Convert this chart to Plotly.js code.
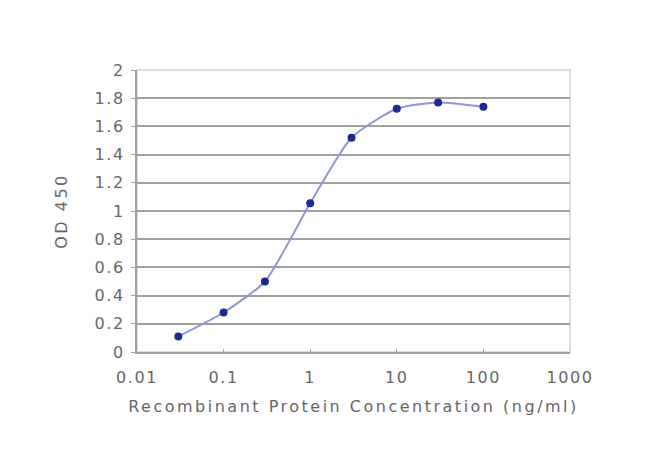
<!DOCTYPE html>
<html><head><meta charset="utf-8">
<script src="https://cdn.plot.ly/plotly-3.0.1.min.js"></script>
<style>html,body{margin:0;padding:0;background:#fff}#chart{width:650px;height:466px}
#chart text{letter-spacing:1.6px}
#chart text.xtitle, #chart text.ytitle{letter-spacing:2.5px}</style>
</head><body><div id="chart"></div>
<script>
const concentration = [0.03, 0.1, 0.3, 1, 3, 10, 30, 100];
const od450 = [0.11, 0.28, 0.50, 1.055, 1.52, 1.725, 1.77, 1.74];
const xTickVals = [0.01, 0.1, 1, 10, 100, 1000];
const xTickText = ["0.01", "0.1", "1", "10", "100", "1000"];
const yTickVals = [0, 0.2, 0.4, 0.6, 0.8, 1, 1.2, 1.4, 1.6, 1.8, 2];
const yTickText = ["0", "0.2", "0.4", "0.6", "0.8", "1", "1.2", "1.4", "1.6", "1.8", "2"];

const trace = {
  x: concentration, y: od450, type: 'scatter', mode: 'lines+markers',
  line: {color: '#8c95d8', width: 2, shape: 'spline', smoothing: 0.6},
  marker: {color: '#1e2a90', size: 8, symbol: 'circle'},
  hoverinfo: 'skip'
};
const font = {family: 'DejaVu Sans, sans-serif', size: 16, color: '#666'};
const layout = {
  width: 650, height: 466,
  margin: {l: 137, r: 80, t: 70, b: 114},
  paper_bgcolor: '#fff', plot_bgcolor: '#fff',
  font: font, showlegend: false,
  xaxis: {
    type: 'log', range: [-2, 3],
    tickvals: xTickVals, ticktext: xTickText,
    showgrid: false, zeroline: false,
    showline: true, linecolor: '#a0a0a0', linewidth: 2, mirror: false,
    ticks: 'inside', ticklen: 3, tickcolor: '#a0a0a0',
    tickfont: font, ticklabelstandoff: 10,
    title: {text: 'Recombinant Protein Concentration (ng/ml)', font: font, standoff: 15}
  },
  yaxis: {
    range: [0, 2], tickvals: yTickVals, ticktext: yTickText,
    showgrid: true, gridcolor: '#a0a0a0', gridwidth: 2, zeroline: false,
    showline: true, linecolor: '#a0a0a0', linewidth: 2,
    ticks: 'outside', ticklen: 4, tickcolor: '#a0a0a0',
    tickfont: font, ticklabelstandoff: 3,
    title: {text: 'OD 450', font: font, standoff: 28}
  },
  shapes: [{type: 'rect', xref: 'paper', yref: 'paper', x0: 0, x1: 1, y0: 0, y1: 1,
            line: {color: '#dcdcdc', width: 2}, layer: 'below'}]
};
Plotly.newPlot('chart', [trace], layout, {displayModeBar: false, staticPlot: true});
</script></body></html>
